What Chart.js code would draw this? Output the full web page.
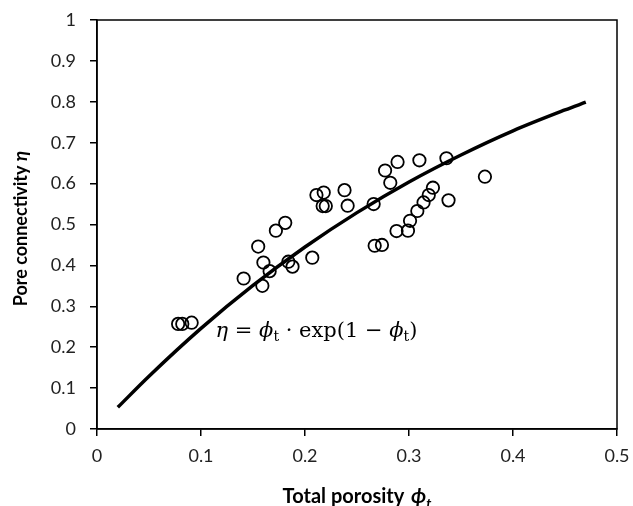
<!DOCTYPE html>
<html>
<head>
<meta charset="utf-8">
<script src="https://cdn.jsdelivr.net/npm/chart.js@4.4.0/dist/chart.umd.min.js"></script>
<style>
  html, body { margin: 0; padding: 0; background: #fff; }
  #wrap { width: 633px; height: 506px; }
</style>
</head>
<body>
<div id="wrap"><canvas id="grafico" width="633" height="506"></canvas></div>
<script>
// measured samples (total porosity vs pore connectivity)
const porosity = [0.078, 0.082, 0.091, 0.141, 0.155, 0.160, 0.159, 0.166, 0.172, 0.181,
  0.184, 0.188, 0.207, 0.211, 0.218, 0.217, 0.220, 0.238, 0.241, 0.266,
  0.267, 0.274, 0.277, 0.282, 0.289, 0.288, 0.299, 0.301, 0.308, 0.310,
  0.314, 0.319, 0.323, 0.336, 0.338, 0.373];
const connectivity = [0.257, 0.257, 0.260, 0.368, 0.446, 0.407, 0.350, 0.386, 0.485, 0.504,
  0.409, 0.397, 0.419, 0.572, 0.578, 0.545, 0.545, 0.584, 0.546, 0.550,
  0.448, 0.450, 0.632, 0.602, 0.653, 0.484, 0.485, 0.509, 0.533, 0.657,
  0.554, 0.572, 0.590, 0.662, 0.559, 0.617];

// model curve eta = phi * exp(1 - phi)
const curvePhi = [0.02, 0.05, 0.10, 0.15, 0.20, 0.25, 0.30, 0.35, 0.40, 0.45, 0.47];
const curveEta = [0.053, 0.129, 0.246, 0.351, 0.445, 0.529, 0.604, 0.670, 0.729, 0.780, 0.799];

const xTicks = [0, 0.1, 0.2, 0.3, 0.4, 0.5];
const yTicks = [0, 0.1, 0.2, 0.3, 0.4, 0.5, 0.6, 0.7, 0.8, 0.9, 1];

const fuenteTicks = 'Lato, "Open Sans", sans-serif';
const fuenteEq = '"DejaVu Serif", "Liberation Serif", serif';

// draws a run of text pieces, each with its own font and vertical shift
function dibujarPiezas(ctx, piezas, x, y) {
  let cx = x;
  piezas.forEach(p => {
    ctx.font = p.font;
    ctx.fillText(p.t, cx, y + (p.dy || 0));
    cx += ctx.measureText(p.t).width + (p.gap || 0);
  });
  return cx - x;
}
function anchoPiezas(ctx, piezas) {
  let w = 0;
  piezas.forEach(p => { ctx.font = p.font; w += ctx.measureText(p.t).width + (p.gap || 0); });
  return w;
}

const marcoYTextos = {
  id: 'marcoYTextos',
  afterDatasetsDraw(chart) {
    const { ctx, chartArea: a, scales } = chart;
    ctx.save();
    // frame around the plot area
    ctx.strokeStyle = '#000';
    ctx.lineWidth = 1.5;
    ctx.strokeRect(a.left, a.top, a.right - a.left, a.bottom - a.top);

    ctx.fillStyle = '#000';
    ctx.textBaseline = 'alphabetic';
    ctx.textAlign = 'left';

    // equation label
    const eq = [
      { t: 'η', font: 'italic 21px ' + fuenteEq },
      { t: ' = ', font: '21px ' + fuenteEq },
      { t: 'ϕ', font: 'italic 21px ' + fuenteEq },
      { t: 't', font: '14px ' + fuenteEq, dy: 4 },
      { t: ' · exp(1 − ', font: '21px ' + fuenteEq },
      { t: 'ϕ', font: 'italic 21px ' + fuenteEq },
      { t: 't', font: '14px ' + fuenteEq, dy: 4 },
      { t: ')', font: '21px ' + fuenteEq }
    ];
    const ex = scales.x.getPixelForValue(0.114);
    const ey = scales.y.getPixelForValue(0.225);
    dibujarPiezas(ctx, eq, ex, ey);

    // x axis title
    const tx = [
      { t: 'Total porosity ', font: 'bold 20px ' + fuenteTicks, gap: 2 },
      { t: 'ϕ', font: 'bold italic 21px ' + fuenteTicks },
      { t: 't', font: 'bold italic 14px ' + fuenteTicks, dy: 5 }
    ];
    const wx = anchoPiezas(ctx, tx);
    dibujarPiezas(ctx, tx, (a.left + a.right) / 2 - wx / 2, 503);

    // y axis title
    const ty = [
      { t: 'Pore connectivity ', font: 'bold 18px ' + fuenteTicks },
      { t: 'η', font: 'bold italic 19px ' + fuenteTicks }
    ];
    const wy = anchoPiezas(ctx, ty);
    ctx.translate(27, (a.top + a.bottom) / 2 + 4);
    ctx.rotate(-Math.PI / 2);
    dibujarPiezas(ctx, ty, -wy / 2, 0);
    ctx.restore();
  }
};

new Chart(document.getElementById('grafico'), {
  type: 'scatter',
  data: {
    datasets: [
      {
        label: 'Modelo',
        type: 'line',
        data: curvePhi.map((p, i) => ({ x: p, y: curveEta[i] })),
        borderColor: '#000',
        borderWidth: 3.5,
        pointRadius: 0,
        fill: false,
        cubicInterpolationMode: 'monotone',
        order: 2
      },
      {
        label: 'Datos',
        data: porosity.map((p, i) => ({ x: p, y: connectivity[i] })),
        pointStyle: 'circle',
        pointRadius: 6.2,
        pointBorderWidth: 1.8,
        borderColor: '#000',
        backgroundColor: 'rgba(0,0,0,0)',
        order: 1
      }
    ]
  },
  options: {
    responsive: false,
    animation: false,
    layout: { padding: { top: 20, right: 16, left: 0, bottom: 0 } },
    plugins: { legend: { display: false }, tooltip: { enabled: false } },
    scales: {
      x: {
        type: 'linear',
        min: 0, max: 0.5,
        afterBuildTicks: s => { s.ticks = xTicks.map(v => ({ value: v })); },
        afterFit: s => { s.height = 77; s.paddingLeft = 0; s.paddingRight = 0; },
        grid: { display: true, drawOnChartArea: false, drawTicks: true, tickLength: 7, color: '#000', lineWidth: 1.5 },
        border: { display: true, color: '#000', width: 1.5 },
        ticks: {
          padding: 9,
          color: '#222',
          font: { family: fuenteTicks, size: 18 },
          maxRotation: 0,
          callback: v => String(v)
        }
      },
      y: {
        type: 'linear',
        min: 0, max: 1,
        afterBuildTicks: s => { s.ticks = yTicks.map(v => ({ value: v })); },
        afterFit: s => { s.width = 97; s.paddingTop = 0; s.paddingBottom = 0; },
        grid: { display: true, drawOnChartArea: false, drawTicks: true, tickLength: 7, color: '#000', lineWidth: 1.5 },
        border: { display: true, color: '#000', width: 1.5 },
        ticks: {
          padding: 14,
          color: '#222',
          font: { family: fuenteTicks, size: 18 },
          callback: v => String(v)
        }
      }
    }
  },
  plugins: [marcoYTextos]
});
</script>
</body>
</html>
